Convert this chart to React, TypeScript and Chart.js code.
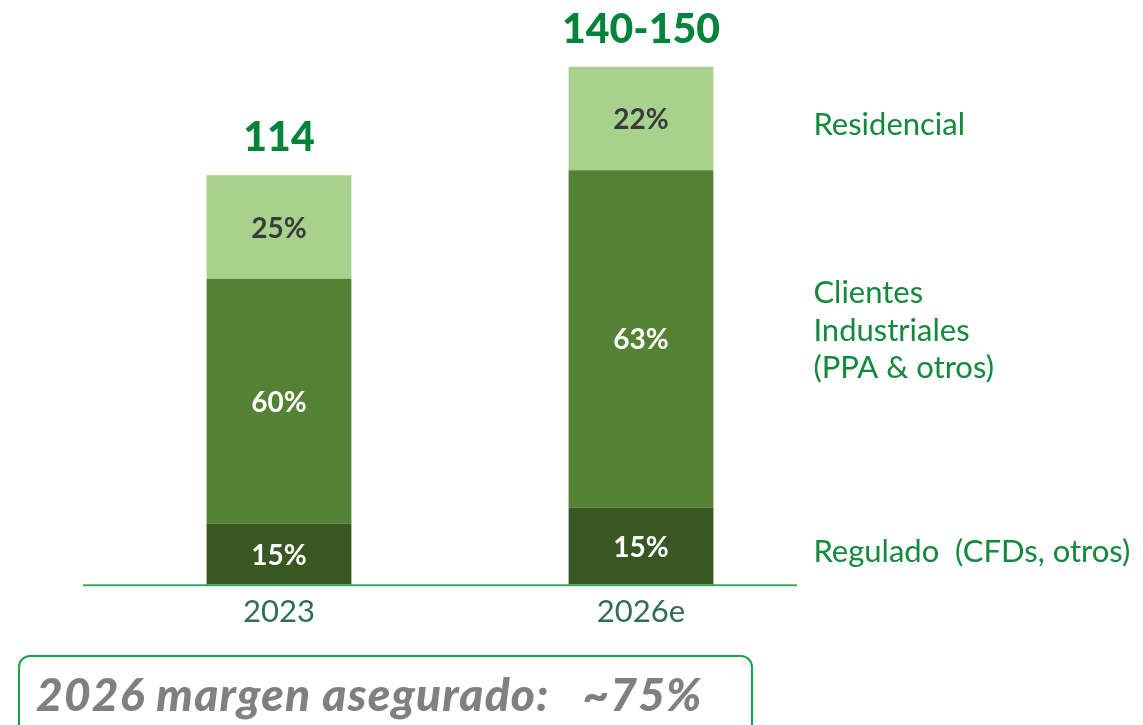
import React, { useEffect, useRef } from "react";
import { Chart, registerables } from "chart.js";

Chart.register(...registerables);

const categories = ["2023", "2026e"];
const seriesNames = ["Regulado  (CFDs, otros)", "Clientes\nIndustriales\n(PPA & otros)", "Residencial"];
const regulado = [17.0, 21.5];
const industriales = [68.2, 93.9];
const residencial = [28.8, 28.8];
const shareRegulado = ["15%", "15%"];
const shareIndustriales = ["60%", "63%"];
const shareResidencial = ["25%", "22%"];
const totalLabels = ["114", "140-150"];
const footnote = "2026 margen asegurado:   ~75%";

const colors = ["#385723", "#548235", "#a9d18e"];
const labelColors = ["#ffffff", "#ffffff", "#3a3a3a"];
const legendNudge = [5.5, -8, 7];
const FONT = "Lato, 'Open Sans', sans-serif";

export default function App() {
  const ref = useRef<HTMLCanvasElement | null>(null);

  useEffect(() => {
    if (!ref.current) return;
    const shares = [shareRegulado, shareIndustriales, shareResidencial];

    const overlay = {
      id: "overlay",
      afterDatasetsDraw(chart: any) {
        const ctx = chart.ctx;
        const yScale = chart.scales.y;
        const area = chart.chartArea;
        ctx.save();
        // baseline
        const y0 = yScale.getPixelForValue(0);
        ctx.strokeStyle = "#3aa862";
        ctx.lineWidth = 2;
        ctx.beginPath();
        ctx.moveTo(area.left - 15, y0 + 0.5);
        ctx.lineTo(area.right - 25, y0 + 0.5);
        ctx.stroke();

        // segment labels
        ctx.textAlign = "center";
        ctx.textBaseline = "middle";
        ctx.font = `bold 28px ${FONT}`;
        chart.data.datasets.forEach((ds: any, di: number) => {
          const meta = chart.getDatasetMeta(di);
          meta.data.forEach((el: any, i: number) => {
            const mid = (el.y + el.base) / 2;
            ctx.fillStyle = labelColors[di];
            ctx.fillText(shares[di][i], el.x, mid + 1.5);
          });
        });

        // totals
        const topMeta = chart.getDatasetMeta(chart.data.datasets.length - 1);
        ctx.font = `900 41px ${FONT}`;
        ctx.fillStyle = "#00843a";
        ctx.textBaseline = "alphabetic";
        topMeta.data.forEach((el: any, i: number) => {
          ctx.fillText(totalLabels[i], el.x, el.y - 24);
        });

        // legend labels next to last bar
        ctx.font = `31px ${FONT}`;
        ctx.fillStyle = "#12893b";
        ctx.textAlign = "left";
        ctx.textBaseline = "middle";
        const last = categories.length - 1;
        chart.data.datasets.forEach((ds: any, di: number) => {
          const el = chart.getDatasetMeta(di).data[last];
          const mid = (el.y + el.base) / 2 + legendNudge[di];
          const lines = seriesNames[di].split("\n");
          const lh = 37.5;
          const startY = mid - ((lines.length - 1) * lh) / 2;
          const x = el.x + el.width / 2 + 100;
          lines.forEach((ln, k) => ctx.fillText(ln, x, startY + k * lh));
        });
        ctx.restore();
      },
    };

    const chart = new Chart(ref.current, {
      type: "bar",
      data: {
        labels: categories,
        datasets: [
          { label: seriesNames[0], data: regulado, backgroundColor: colors[0] },
          { label: seriesNames[1], data: industriales, backgroundColor: colors[1] },
          { label: seriesNames[2], data: residencial, backgroundColor: colors[2] },
        ].map((d) => ({
          ...d,
          borderWidth: 0,
          barPercentage: 1,
          categoryPercentage: 0.4,
        })),
      },
      options: {
        animation: false,
        responsive: false,
        layout: { padding: { left: 98, right: 321, top: 10, bottom: 85 } },
        plugins: { legend: { display: false }, tooltip: { enabled: false } },
        scales: {
          x: {
            stacked: true,
            grid: { display: false, drawTicks: false },
            border: { display: false },
            ticks: {
              padding: 9,
              color: "#2f6d57",
              font: { family: FONT, size: 31 },
            },
          },
          y: {
            stacked: true,
            display: false,
            min: 0,
            max: 160,
          },
        },
      },
      plugins: [overlay],
    });
    return () => chart.destroy();
  }, []);

  return (
    <div style={{ position: "fixed", left: 0, top: 0, width: 1143, height: 725, background: "#fff", overflow: "hidden" }}>
      <canvas ref={ref} width={1143} height={725} style={{ position: "absolute", left: 0, top: 0 }} />
      <div
        style={{
          position: "absolute",
          left: 18,
          top: 655,
          width: 735,
          height: 90,
          border: "2px solid #1ba24b",
          borderRadius: 12,
          boxSizing: "border-box",
        }}
      />
      <div
        style={{
          position: "absolute",
          left: 36,
          top: 666,
          fontFamily: FONT,
          fontWeight: 900,
          fontStyle: "italic",
          fontSize: 46,
          letterSpacing: "1.2px",
          color: "#808080",
          whiteSpace: "pre",
          lineHeight: "56px",
        }}
      >
        {footnote}
      </div>
    </div>
  );
}
